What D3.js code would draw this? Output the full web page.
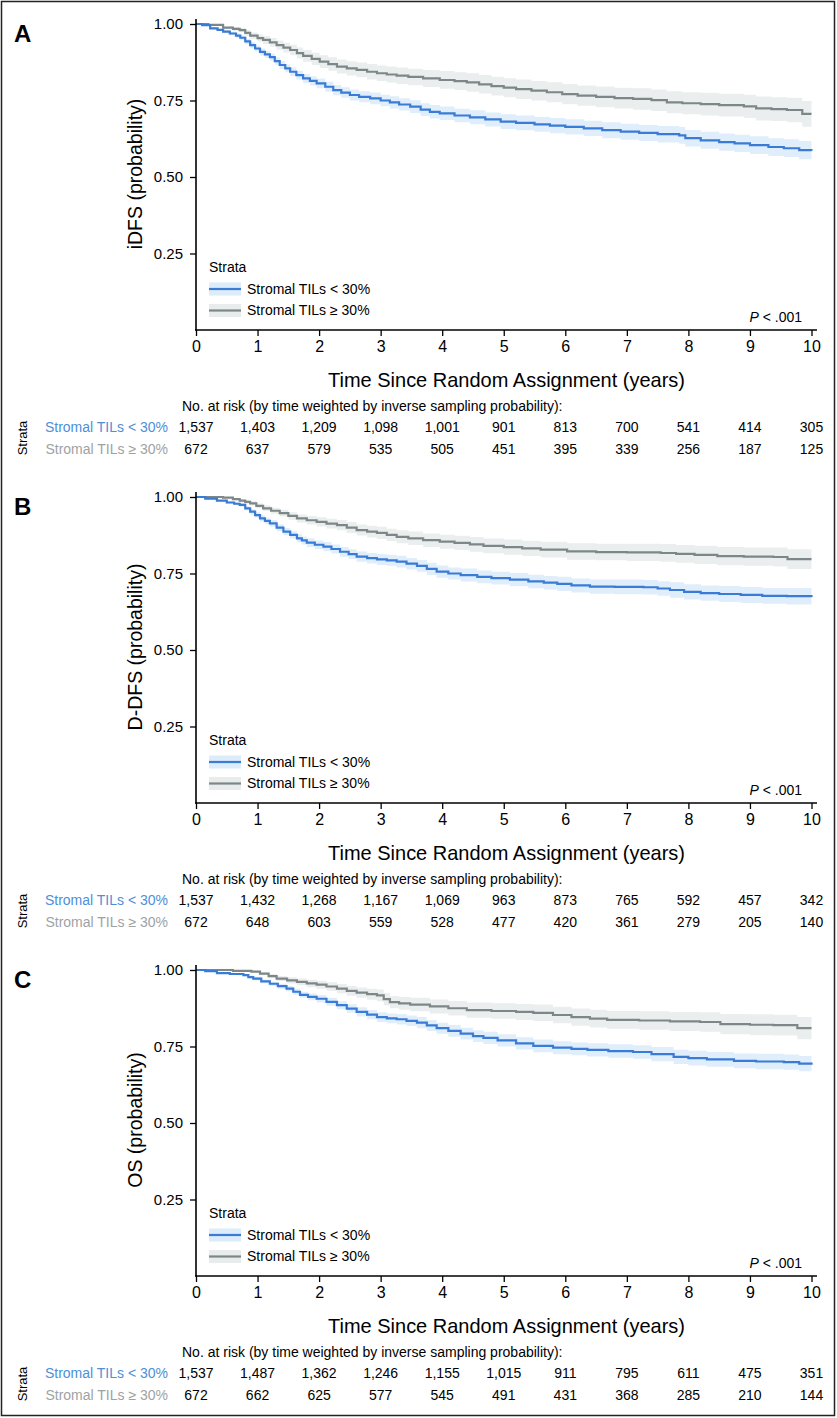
<!DOCTYPE html>
<html><head><meta charset="utf-8">
<script src="https://cdn.jsdelivr.net/npm/d3@7"></script>
<style>
html,body{margin:0;padding:0;background:#fff;}
svg{display:block;font-family:"Liberation Sans",Arial,Helvetica,sans-serif;}
</style></head>
<body>
<svg id="chart" width="837" height="1418"></svg>
<script>
// ---------- DATA ----------
const panelLabels = ["A", "B", "C"];
const yTitles = ["iDFS (probability)", "D-DFS (probability)", "OS (probability)"];
const strataNames = ["Stromal TILs < 30%", "Stromal TILs \u2265 30%"];
const xTicks = [0,1,2,3,4,5,6,7,8,9,10];
const yTicks = [0.25, 0.50, 0.75, 1.00];
const xTitle = "Time Since Random Assignment (years)";
const riskTitle = "No. at risk (by time weighted by inverse sampling probability):";
const pLabel = "< .001";

// [time, survival, CI half-width]
const iDFS_low = [[0,1,0],[0.1,0.996,.002],[0.23,0.986,.003],[0.35,0.981,.004],[0.44,0.975,.005],[0.55,0.969,.006],[0.65,0.962,.007],[0.72,0.955,.008],[0.8,0.943,.009],[0.88,0.931,.010],[0.96,0.920,.010],[1.04,0.909,.011],[1.12,0.901,.011],[1.2,0.892,.012],[1.28,0.879,.012],[1.36,0.866,.013],[1.45,0.855,.013],[1.53,0.844,.014],[1.63,0.833,.014],[1.74,0.822,.015],[1.85,0.814,.015],[1.96,0.806,.016],[2.1,0.795,.016],[2.23,0.784,.017],[2.36,0.776,.017],[2.5,0.768,.018],[2.65,0.762,.018],[2.83,0.757,.019],[3.0,0.750,.019],[3.15,0.744,.020],[3.3,0.737,.020],[3.48,0.730,.021],[3.65,0.720,.021],[3.8,0.713,.022],[3.96,0.708,.022],[4.2,0.701,.022],[4.45,0.695,.023],[4.7,0.688,.023],[4.95,0.681,.024],[5.2,0.677,.024],[5.5,0.672,.024],[5.75,0.668,.025],[6.0,0.664,.025],[6.3,0.659,.025],[6.6,0.653,.026],[6.9,0.648,.026],[7.2,0.644,.026],[7.5,0.640,.027],[7.85,0.636,.027],[7.95,0.627,.027],[8.2,0.620,.028],[8.5,0.614,.028],[8.75,0.610,.028],[9.0,0.604,.029],[9.3,0.598,.029],[9.55,0.594,.029],[9.8,0.588,.030],[10.0,0.586,.030]];
const iDFS_high = [[0,1,0],[0.2,0.997,.002],[0.44,0.988,.004],[0.6,0.984,.006],[0.71,0.980,.007],[0.8,0.971,.009],[0.88,0.962,.010],[1.0,0.954,.012],[1.09,0.948,.013],[1.2,0.940,.014],[1.31,0.931,.015],[1.42,0.923,.016],[1.53,0.915,.017],[1.64,0.905,.018],[1.74,0.896,.019],[1.88,0.886,.020],[2.01,0.877,.021],[2.15,0.869,.022],[2.29,0.861,.023],[2.45,0.855,.023],[2.61,0.850,.024],[2.78,0.844,.025],[2.94,0.839,.025],[3.1,0.835,.026],[3.26,0.831,.027],[3.45,0.827,.027],[3.69,0.822,.028],[3.96,0.817,.029],[4.2,0.813,.029],[4.4,0.809,.030],[4.6,0.803,.030],[4.8,0.797,.031],[5.0,0.792,.031],[5.2,0.787,.032],[5.45,0.782,.032],[5.7,0.777,.033],[5.95,0.771,.033],[6.2,0.766,.033],[6.5,0.762,.034],[6.8,0.758,.034],[7.1,0.755,.035],[7.4,0.751,.035],[7.65,0.744,.036],[7.9,0.741,.036],[8.2,0.738,.037],[8.5,0.735,.037],[8.9,0.731,.038],[9.1,0.724,.039],[9.35,0.722,.039],[9.6,0.719,.040],[9.85,0.706,.042],[10.0,0.706,.042]];
const DDFS_low = [[0,1,0],[0.15,0.995,.002],[0.34,0.988,.003],[0.5,0.982,.004],[0.62,0.978,.005],[0.71,0.974,.006],[0.8,0.963,.007],[0.88,0.952,.008],[0.96,0.941,.009],[1.04,0.930,.010],[1.12,0.922,.010],[1.2,0.914,.011],[1.31,0.900,.011],[1.42,0.887,.012],[1.53,0.876,.012],[1.64,0.865,.013],[1.72,0.858,.013],[1.8,0.851,.014],[1.93,0.844,.014],[2.07,0.838,.015],[2.2,0.830,.015],[2.34,0.821,.016],[2.48,0.813,.016],[2.61,0.805,.017],[2.78,0.800,.017],[2.94,0.796,.018],[3.1,0.793,.018],[3.26,0.789,.019],[3.42,0.782,.019],[3.59,0.775,.019],[3.75,0.765,.020],[3.91,0.756,.020],[4.1,0.750,.020],[4.3,0.745,.021],[4.57,0.739,.021],[4.8,0.735,.021],[5.1,0.730,.022],[5.4,0.724,.022],[5.65,0.720,.022],[5.87,0.716,.023],[6.1,0.711,.023],[6.4,0.707,.023],[6.8,0.706,.024],[7.27,0.705,.024],[7.5,0.701,.024],[7.7,0.696,.025],[7.93,0.690,.025],[8.2,0.686,.025],[8.5,0.683,.026],[8.85,0.680,.026],[9.2,0.677,.026],[9.6,0.676,.027],[10.0,0.673,.027]];
const DDFS_high = [[0,1,0],[0.44,0.998,.002],[0.6,0.993,.004],[0.71,0.988,.005],[0.8,0.984,.006],[0.88,0.979,.007],[0.98,0.971,.008],[1.09,0.963,.009],[1.22,0.955,.010],[1.36,0.947,.011],[1.5,0.938,.012],[1.64,0.930,.013],[1.8,0.924,.014],[1.96,0.919,.015],[2.12,0.913,.016],[2.29,0.908,.017],[2.45,0.900,.018],[2.61,0.892,.018],[2.78,0.887,.019],[2.94,0.883,.020],[3.1,0.876,.020],[3.26,0.870,.021],[3.45,0.865,.022],[3.69,0.859,.022],[3.96,0.854,.023],[4.2,0.850,.023],[4.45,0.845,.024],[4.67,0.840,.024],[5.0,0.836,.025],[5.3,0.832,.025],[5.6,0.828,.026],[6.03,0.822,.027],[6.5,0.820,.027],[7.0,0.819,.028],[7.55,0.817,.029],[7.8,0.814,.029],[8.1,0.811,.030],[8.47,0.807,.030],[8.9,0.805,.030],[9.38,0.804,.031],[9.61,0.797,.032],[10.0,0.797,.032]];
const OS_low = [[0,1,0],[0.15,0.996,.001],[0.34,0.990,.002],[0.55,0.987,.003],[0.77,0.983,.004],[0.85,0.977,.005],[0.93,0.972,.006],[1.06,0.963,.006],[1.2,0.955,.007],[1.33,0.947,.008],[1.47,0.939,.009],[1.58,0.929,.010],[1.69,0.919,.010],[1.82,0.912,.011],[1.96,0.906,.012],[2.12,0.896,.013],[2.29,0.885,.013],[2.45,0.874,.014],[2.61,0.863,.015],[2.78,0.854,.015],[2.94,0.846,.016],[3.1,0.842,.016],[3.26,0.839,.017],[3.42,0.834,.017],[3.59,0.828,.018],[3.75,0.819,.018],[3.91,0.810,.018],[4.1,0.801,.019],[4.3,0.792,.019],[4.5,0.784,.019],[4.67,0.778,.020],[4.9,0.770,.020],[5.2,0.760,.020],[5.48,0.752,.021],[5.8,0.746,.021],[6.1,0.742,.021],[6.36,0.739,.022],[6.7,0.735,.022],[7.1,0.732,.022],[7.4,0.725,.023],[7.76,0.716,.023],[8.0,0.712,.024],[8.3,0.708,.024],[8.74,0.703,.024],[9.1,0.701,.025],[9.55,0.699,.025],[9.8,0.694,.025],[10.0,0.690,.026]];
const OS_high = [[0,1,0],[0.6,0.997,.001],[0.9,0.995,.003],[1.04,0.988,.005],[1.18,0.980,.007],[1.31,0.972,.008],[1.48,0.966,.010],[1.64,0.961,.011],[1.8,0.956,.012],[1.96,0.952,.013],[2.12,0.946,.014],[2.29,0.939,.015],[2.45,0.932,.016],[2.61,0.926,.017],[2.78,0.921,.018],[2.94,0.917,.019],[3.05,0.905,.020],[3.15,0.895,.020],[3.3,0.891,.021],[3.48,0.887,.022],[3.8,0.881,.023],[4.1,0.875,.024],[4.4,0.869,.025],[4.8,0.866,.025],[5.2,0.863,.026],[5.48,0.860,.027],[5.8,0.853,.027],[6.1,0.846,.028],[6.4,0.841,.029],[6.68,0.837,.029],[7.2,0.835,.030],[7.7,0.832,.031],[8.19,0.830,.032],[8.52,0.823,.033],[9.0,0.821,.034],[9.38,0.820,.034],[9.77,0.810,.036],[10.0,0.810,.036]];

const riskA_low  = ["1,537","1,403","1,209","1,098","1,001","901","813","700","541","414","305"];
const riskA_high = ["672","637","579","535","505","451","395","339","256","187","125"];
const riskB_low  = ["1,537","1,432","1,268","1,167","1,069","963","873","765","592","457","342"];
const riskB_high = ["672","648","603","559","528","477","420","361","279","205","140"];
const riskC_low  = ["1,537","1,487","1,362","1,246","1,155","1,015","911","795","611","475","351"];
const riskC_high = ["672","662","625","577","545","491","431","368","285","210","144"];

const curves = [[iDFS_low, iDFS_high],[DDFS_low, DDFS_high],[OS_low, OS_high]];
const risks = [[riskA_low, riskA_high],[riskB_low, riskB_high],[riskC_low, riskC_high]];

// ---------- STYLE ----------
const lineColors = ["#3a7bd5", "#7d8787"];
const bandColors = ["#dcecf9", "#e9ecec"];
const labelColors = ["#4d8fd8", "#9da3a5"];
const panelH = 473;

const svg = d3.select("#chart");
svg.append("rect").attr("x",1.5).attr("y",1.5).attr("width",833).attr("height",1414)
  .attr("fill","none").attr("stroke","#222").attr("stroke-width",1.5);

const x = d3.scaleLinear().domain([0,10]).range([196, 811.5]);
const y = d3.scaleLinear().domain([0,1]).range([330, 24]);

panelLabels.forEach((lab, i) => {
  const g = svg.append("g").attr("transform", `translate(0,${i*panelH})`);

  g.append("text").attr("x",14).attr("y",42).attr("font-size",24).attr("font-weight","bold").text(lab);

  // bands
  curves[i].forEach((data, k) => {
    const area = d3.area().curve(d3.curveStepAfter)
      .x(d => x(d[0]))
      .y0(d => y(d[1]-d[2]))
      .y1(d => y(Math.min(1, d[1]+d[2])));
    g.append("path").datum(data).attr("d", area).attr("fill", bandColors[k]).attr("opacity",0.9);
  });
  // lines (grey first, blue on top)
  [1, 0].forEach(k => {
    const line = d3.line().curve(d3.curveStepAfter).x(d => x(d[0])).y(d => y(d[1]));
    g.append("path").datum(curves[i][k]).attr("d", line).attr("fill","none")
      .attr("stroke", lineColors[k]).attr("stroke-width",2.2);
  });

  // axes
  const yAxis = d3.axisLeft(y).tickValues(yTicks).tickFormat(d3.format(".2f")).tickSize(6).tickSizeOuter(0);
  const ya = g.append("g").attr("transform","translate(196,0)").call(yAxis);
  ya.select(".domain").remove();
  ya.selectAll(".tick line").attr("stroke","#000").attr("stroke-width",1.3);
  ya.selectAll(".tick text").attr("font-size",15).attr("fill","#000").attr("x",-13)
    .attr("font-family","Liberation Sans, Arial, sans-serif");
  g.append("line").attr("x1",196).attr("x2",196).attr("y1",19).attr("y2",330.7)
    .attr("stroke","#000").attr("stroke-width",1.6);

  const xAxis = d3.axisBottom(x).tickValues(xTicks).tickFormat(d3.format("d")).tickSize(6).tickSizeOuter(0);
  const xa = g.append("g").attr("transform","translate(0,330)").call(xAxis);
  xa.select(".domain").remove();
  xa.selectAll(".tick line").attr("stroke","#000").attr("stroke-width",1.3);
  xa.selectAll(".tick text").attr("font-size",16).attr("fill","#000").attr("y",11)
    .attr("font-family","Liberation Sans, Arial, sans-serif");
  g.append("line").attr("x1",195.2).attr("x2",817).attr("y1",330).attr("y2",330)
    .attr("stroke","#000").attr("stroke-width",1.6);

  // titles
  g.append("text").attr("transform","translate(142,174) rotate(-90)").attr("text-anchor","middle")
    .attr("font-size",19.5).text(yTitles[i]);
  g.append("text").attr("x",328).attr("y",387).attr("font-size",21)
    .attr("textLength",357).attr("lengthAdjust","spacingAndGlyphs").text(xTitle);

  // legend
  g.append("text").attr("x",209).attr("y",272).attr("font-size",14).text("Strata");
  strataNames.forEach((nm, k) => {
    const ly = 289 + k*21.5;
    g.append("rect").attr("x",209).attr("y",ly-6.5).attr("width",32).attr("height",13).attr("fill",bandColors[k]);
    g.append("line").attr("x1",209).attr("x2",241).attr("y1",ly).attr("y2",ly)
      .attr("stroke",lineColors[k]).attr("stroke-width",2.2);
    g.append("text").attr("x",247).attr("y",ly+4.5).attr("font-size",14).text(nm);
  });

  // p-value
  const pt = g.append("text").attr("x",802).attr("y",321.5).attr("font-size",14).attr("text-anchor","end");
  pt.append("tspan").attr("font-style","italic").text("P");
  pt.append("tspan").text(" " + pLabel);

  // risk table
  g.append("text").attr("x",182).attr("y",410.5).attr("font-size",14).text(riskTitle);
  g.append("text").attr("transform","translate(27,438) rotate(-90)").attr("text-anchor","middle")
    .attr("font-size",13).text("Strata");
  risks[i].forEach((row, k) => {
    const ry = 432 + k*22;
    g.append("text").attr("x",168).attr("y",ry).attr("text-anchor","end").attr("font-size",14)
      .attr("fill",labelColors[k]).text(strataNames[k]);
    g.selectAll(null).data(row).enter().append("text")
      .attr("x",(d,j) => x(xTicks[j])).attr("y",ry).attr("text-anchor","middle")
      .attr("font-size",14).attr("fill","#000").text(d => d);
  });
});
</script>
</body></html>
